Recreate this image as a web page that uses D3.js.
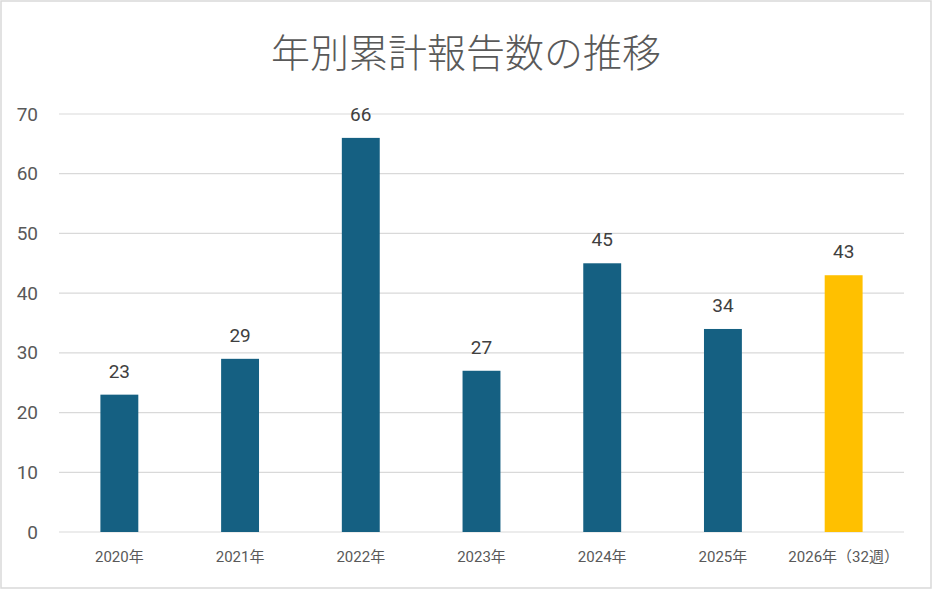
<!DOCTYPE html>
<html><head><meta charset="utf-8">
<script src="https://cdn.jsdelivr.net/npm/d3@7"></script>
<style>
html,body{margin:0;padding:0;background:#fff;}
svg{display:block;}
</style></head>
<body>
<svg id="chart" width="932" height="589"></svg>
<script>
const categories = ["2020年","2021年","2022年","2023年","2024年","2025年","2026年（32週）"];
const values = [23, 29, 66, 27, 45, 34, 43];
const highlight = [false,false,false,false,false,false,true];
const yTicks = [0,10,20,30,40,50,60,70];
const title = "年別累計報告数の推移";

const W = 932, H = 589;
const m = {left:59, right:28, top:114, bottom:57};
const svg = d3.select("#chart");
const font = "Roboto, 'Noto Sans CJK JP', sans-serif";

svg.append("rect").attr("x",1).attr("y",1).attr("width",W-2).attr("height",H-2)
  .attr("fill","#fff").attr("stroke","#d9d9d9").attr("stroke-width",1.5);

const x = d3.scaleBand().domain(categories).range([m.left, W-m.right]).paddingInner(0.686).paddingOuter(0.343);
const y = d3.scaleLinear().domain([0,70]).range([H-m.bottom, m.top]);

// gridlines
svg.append("g").selectAll("line").data(yTicks).join("line")
  .attr("x1",m.left).attr("x2",W-m.right)
  .attr("y1",d=>y(d)).attr("y2",d=>y(d))
  .attr("stroke","#d9d9d9").attr("stroke-width",1.2);

// y axis labels
const yAxis = d3.axisLeft(y).tickValues(yTicks).tickSize(0).tickPadding(21);
const gy = svg.append("g").attr("transform",`translate(${m.left},0)`).call(yAxis);
gy.select(".domain").remove();
gy.selectAll("text").attr("font-family",font).attr("font-size",19).attr("fill","#595959");

// bars
svg.append("g").selectAll("rect").data(values).join("rect")
  .attr("x",(d,i)=>x(categories[i]))
  .attr("width",x.bandwidth())
  .attr("y",d=>y(d))
  .attr("height",d=>y(0)-y(d))
  .attr("fill",(d,i)=>highlight[i]?"#FFC000":"#156082");

// value labels
svg.append("g").selectAll("text").data(values).join("text")
  .attr("x",(d,i)=>x(categories[i])+x.bandwidth()/2)
  .attr("y",d=>y(d)-17)
  .attr("text-anchor","middle")
  .attr("font-family",font).attr("font-size",19).attr("fill","#404040")
  .text(d=>d);

// x axis labels
const xAxis = d3.axisBottom(x).tickSize(0).tickPadding(19);
const gx = svg.append("g").attr("transform",`translate(0,${H-m.bottom})`).call(xAxis);
gx.select(".domain").remove();
gx.selectAll("text").attr("font-family",font).attr("font-size",15).attr("fill","#595959");

// title
svg.append("text").attr("x",W/2).attr("y",67).attr("text-anchor","middle")
  .attr("font-family","'Noto Sans CJK JP', sans-serif").attr("font-weight",300)
  .attr("font-size",39).attr("fill","#595959").text(title);
</script>
</body></html>
